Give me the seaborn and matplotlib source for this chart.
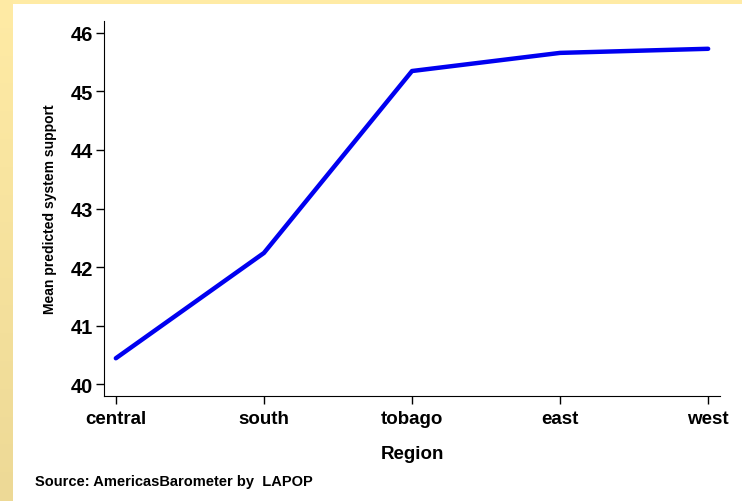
import seaborn as sns
import matplotlib.pyplot as plt
import pandas as pd
import numpy as np
from matplotlib.colors import LinearSegmentedColormap

# valores
regions = ['central', 'south', 'tobago', 'east', 'west']
support = [40.44, 42.24, 45.35, 45.66, 45.73]
yticks = [40, 41, 42, 43, 44, 45, 46]

df = pd.DataFrame({'Region': regions, 'support': support})

sns.set_style('ticks')
plt.rcParams['font.family'] = ['Liberation Sans', 'DejaVu Sans']
plt.rcParams['font.weight'] = 'bold'
plt.rcParams['text.color'] = 'black'
plt.rcParams['axes.labelcolor'] = 'black'
plt.rcParams['xtick.color'] = 'black'
plt.rcParams['ytick.color'] = 'black'

fig = plt.figure(figsize=(7.42, 5.02), dpi=100)
fig.patch.set_facecolor('#FFEBA5')

# fundo branco
fig.patches.append(plt.Rectangle((13 / 742, 0), 1, 1 - 5 / 502, transform=fig.transFigure,
                                 facecolor='white', edgecolor='none', zorder=-10))

# faixa esquerda em degradê
strip = fig.add_axes([0, 0, 13 / 742, 1])
grad = np.linspace(0, 1, 256).reshape(-1, 1)
cmap = LinearSegmentedColormap.from_list('y', ['#EDD996', '#FFEBA5'])
strip.imshow(grad, aspect='auto', cmap=cmap, origin='lower')
strip.axis('off')

ax = fig.add_axes([104 / 742, 1 - 397 / 502, 616 / 742, 375 / 502])
ax.set_facecolor('white')
sns.lineplot(data=df, x='Region', y='support', color='#0000F0', linewidth=3.2,
             sort=False, ax=ax)
ax.set_xlim(-0.08, 4.08)
ax.set_ylim(39.795, 46.205)
ax.set_yticks(yticks)
ax.set_yticklabels([str(t) for t in yticks], fontsize=14.5, fontweight='bold')
ax.set_xticks(range(len(regions)))
ax.set_xticklabels(regions, fontsize=13.5, fontweight='bold')
ax.tick_params(axis='x', length=6, width=1, pad=4, color='black', labelcolor='black')
ax.tick_params(axis='y', length=6, width=1, pad=2, color='black', labelcolor='black')
ax.spines['top'].set_visible(False)
ax.spines['right'].set_visible(False)
ax.spines['left'].set_color('black')
ax.spines['bottom'].set_color('black')
ax.set_xlabel('Region', fontsize=13.5, fontweight='bold', labelpad=13, color='black')
ax.set_ylabel('Mean predicted system support', fontsize=10, fontweight='bold', labelpad=10,
              color='black')

fig.text(35 / 742, 1 - 482 / 502, 'Source: AmericasBarometer by  LAPOP', fontsize=10.5,
         fontweight='bold', va='center', ha='left', color='black')

plt.savefig('out.png', dpi=100)
